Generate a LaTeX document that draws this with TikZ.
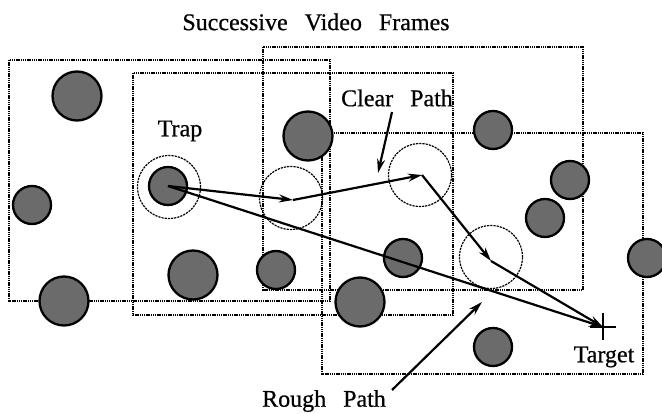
\documentclass[tikz,border=0pt]{standalone}
\usepackage{fontspec}
\setmainfont{Liberation Serif}
\newfontface\lblface[FakeBold=0.6]{Liberation Serif}
\usetikzlibrary{arrows.meta}
\newcommand\wsp{\hspace{17pt}}
\begin{document}
\begin{tikzpicture}[x=1pt,y=-1pt,
 frame/.style={draw, line width=1.7pt, dash pattern=on 1.4pt off 0.8pt},
 obst/.style={circle, draw, line width=2.3pt, fill=black!58, inner sep=0pt},
 bigob/.style={obst, minimum size=49pt},
 smallob/.style={obst, minimum size=38pt},
 ring/.style={circle, draw, line width=1.2pt, dash pattern=on 2.2pt off 1pt, minimum size=63pt, inner sep=0pt},
 lbl/.style={font=\fontsize{24}{28}\lblface, inner sep=0pt},
 patharrow/.style={line width=2.2pt, -{Stealth[length=14pt,width=8pt]}},
]
\useasboundingbox (0,0) rectangle (662,414);
% frames
\draw[frame] (9,60) rectangle (330,301);
\draw[frame] (133,73) rectangle (453,315);
\draw[frame] (263,47) rectangle (583,290);
\draw[frame] (322,133) rectangle (643,374);
% rings
\node[ring] (r0) at (169,187) {};
\node[ring] (r1) at (291,198) {};
\node[ring] (r2) at (420,175) {};
\node[ring] (r3) at (491,257) {};
% obstacles
\node[bigob] (o1) at (77,96) {};
\node[smallob] (o2) at (32,205) {};
\node[bigob] (o3) at (64,301) {};
\node[smallob] (trap) at (168,186) {};
\node[bigob] (o5) at (193,275) {};
\node[bigob] (o6) at (308,136) {};
\node[smallob] (o7) at (493,130) {};
\node[smallob] (o8) at (570,180) {};
\node[smallob] (o9) at (545,218) {};
\node[smallob] (o10) at (647,258) {};
\node[smallob] (o11) at (493,347) {};
\node[smallob] (o12) at (403,258) {};
\node[smallob] (o13) at (276,270) {};
\node[bigob] (o14) at (360,302) {};
% path points
\coordinate (B) at (293,200);
\coordinate (C) at (422,175);
\coordinate (D) at (491,261);
\coordinate (T) at (603,327);
% target cross
\draw[line width=2.3pt] ([xshift=-13pt]T) -- ([xshift=13pt]T);
\draw[line width=2.3pt] ([yshift=-13pt]T) -- ([yshift=14pt]T);
% clear path
\draw[patharrow] (trap.center) -- (B);
\draw[patharrow] (B) -- (C);
\draw[patharrow] (C) -- (D);
\draw[patharrow] (D) -- (T);
% rough path
\draw[patharrow] (trap.center) -- (T);
% labels
\node[lbl] (title) at (316,22) {Successive\wsp Video\wsp Frames};
\node[lbl] (traplbl) at (180,131) {Trap};
\node[lbl] (clearlbl) at (397,98) {Clear\wsp Path};
\node[lbl] (roughlbl) at (324,401) {Rough\wsp Path};
\node[lbl] (targetlbl) at (604,357) {Target};
\coordinate (c1) at (392,112);
\coordinate (c2) at (378,173);
\draw[patharrow] (c1) -- (c2);
\coordinate (p1) at (392,390);
\coordinate (p2) at (482,302);
\draw[patharrow] (p1) -- (p2);
\end{tikzpicture}
\end{document}
